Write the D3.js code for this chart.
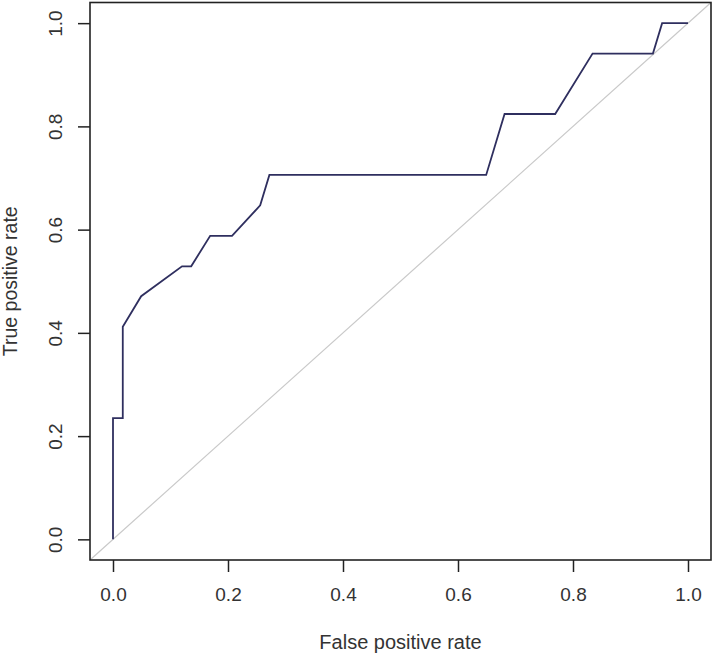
<!DOCTYPE html>
<html><head><meta charset="utf-8">
<script src="https://cdn.jsdelivr.net/npm/d3@7"></script>
<style>body{margin:0;background:#fff}svg{display:block}text{font-family:"Liberation Sans",Arial,sans-serif;fill:#333}</style>
</head><body>
<script>
const fpr = [0, 0, 0.017, 0.017, 0.049, 0.12, 0.136, 0.169, 0.207, 0.256, 0.272, 0.649, 0.681, 0.769, 0.834, 0.939, 0.955, 1.0];
const tpr = [0, 0.235, 0.235, 0.412, 0.471, 0.529, 0.529, 0.588, 0.588, 0.647, 0.706, 0.706, 0.824, 0.824, 0.941, 0.941, 1.0, 1.0];
const tickLabels = ["0.0", "0.2", "0.4", "0.6", "0.8", "1.0"];
const tickValues = [0, 0.2, 0.4, 0.6, 0.8, 1.0];
const xTitle = "False positive rate";
const yTitle = "True positive rate";

const W = 718, H = 653;
const svg = d3.select("body").append("svg").attr("width", W).attr("height", H);
const x = d3.scaleLinear().domain([-0.04, 1.04]).range([90, 711]);
const y = d3.scaleLinear().domain([-0.04, 1.04]).range([560, 2.5]);

// diagonal
svg.append("line")
  .attr("x1", x(-0.04)).attr("y1", y(-0.04)).attr("x2", x(1.04)).attr("y2", y(1.04))
  .attr("stroke", "#c9c9c9").attr("stroke-width", 1.2);

// curve
const pts = fpr.map((f, i) => [f, tpr[i]]);
svg.append("path").datum(pts)
  .attr("d", d3.line().x(d => x(d[0])).y(d => y(d[1])))
  .attr("fill", "none").attr("stroke", "#2f2f5f").attr("stroke-width", 1.8);

// box
svg.append("rect").attr("x", 90).attr("y", 2.5).attr("width", 621).attr("height", 557.5)
  .attr("fill", "none").attr("stroke", "#222").attr("stroke-width", 1.6);

// x axis
const xa = svg.append("g").attr("transform", "translate(0,560)")
  .call(d3.axisBottom(x).tickValues(tickValues).tickFormat((d, i) => tickLabels[i]).tickSize(12).tickPadding(16));
xa.select(".domain").remove();
xa.selectAll("line").attr("stroke", "#222").attr("stroke-width", 1.5);
xa.selectAll("text").attr("font-size", 19).attr("fill", "#333").attr("font-family", "Liberation Sans, Arial, sans-serif");

// y axis
const ya = svg.append("g").attr("transform", "translate(90,0)")
  .call(d3.axisLeft(y).tickValues(tickValues).tickFormat((d, i) => tickLabels[i]).tickSize(12).tickPadding(0));
ya.select(".domain").remove();
ya.selectAll("line").attr("stroke", "#222").attr("stroke-width", 1.5);
ya.selectAll("text").attr("font-size", 19).attr("fill", "#333").attr("font-family", "Liberation Sans, Arial, sans-serif")
  .attr("x", null).attr("dy", null)
  .attr("text-anchor", "middle")
  .attr("transform", "translate(-28,0) rotate(-90)")
  .attr("y", 0);

svg.append("text").attr("x", x(0.5)).attr("y", 649).attr("text-anchor", "middle")
  .attr("font-size", 20).text(xTitle);
svg.append("text").attr("transform", `translate(17,${y(0.5)}) rotate(-90)`).attr("text-anchor", "middle")
  .attr("font-size", 19.5).text(yTitle);
</script>
</body></html>
